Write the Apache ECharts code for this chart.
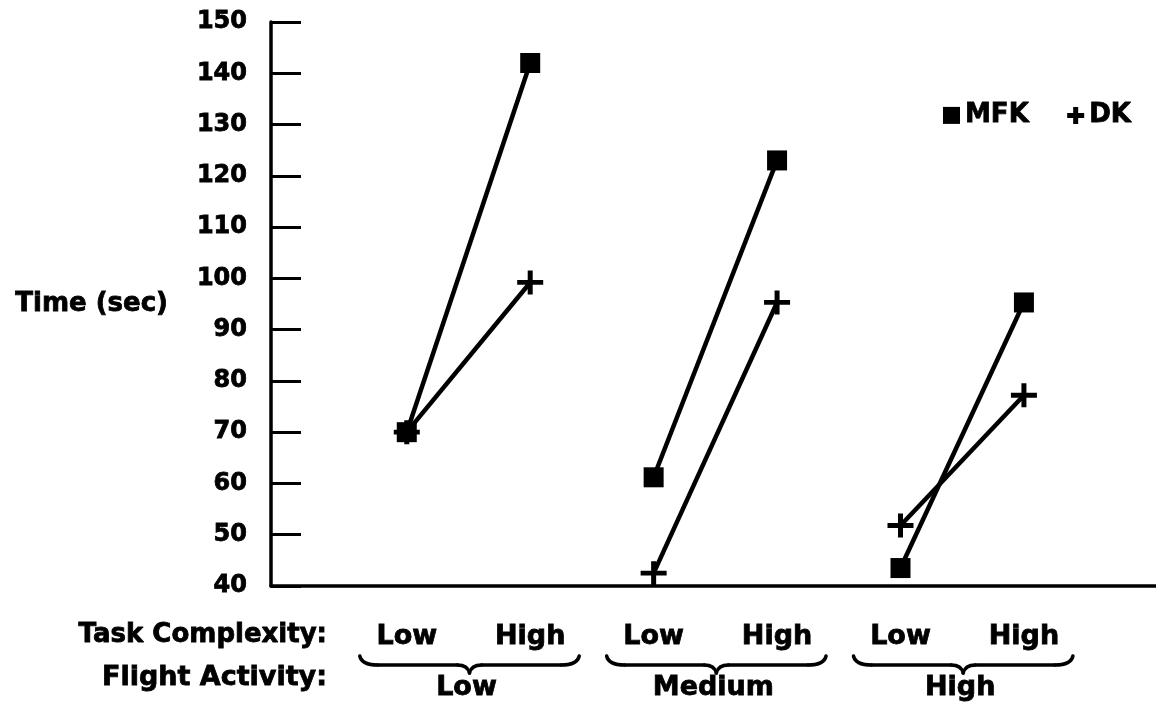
<!DOCTYPE html>
<html>
<head>
<meta charset="utf-8">
<script src="https://cdn.jsdelivr.net/npm/echarts@6/dist/echarts.min.js"></script>
<style>
html,body{margin:0;padding:0;background:#fff;}
#chart{width:1156px;height:704px;}
</style>
</head>
<body>
<div id="chart"></div>
<script>
// ---- data ----
var taskComplexity = ['Low', 'High', 'Low', 'High', 'Low', 'High'];
var flightActivity = ['Low', 'Medium', 'High'];
var mfkValues = [70, 142, 61.2, 123, 43.5, 95.3];
var dkValues = [70, 99.2, 42.5, 95.3, 51.8, 77.2];
var yTicks = [40, 50, 60, 70, 80, 90, 100, 110, 120, 130, 140, 150];

var FONT = 'DejaVu Sans';
var PLUS = 'path://M0,10H10.5V0H15.5V10H26V15H15.5V25H10.5V15H0Z';
var PLUS_LEGEND = 'path://M0,6H6V0H11V6H17V11H11V17H6V11H0Z';
var HEAVY = {textBorderColor: '#000', textBorderWidth: 0.8};

var chart = echarts.init(document.getElementById('chart'), null, {renderer: 'canvas'});

var series = [];
flightActivity.forEach(function (g, gi) {
  var a = gi * 2, b = gi * 2 + 1;
  series.push({
    name: 'MFK', type: 'line', symbol: 'rect', symbolSize: 20,
    lineStyle: {color: '#000', width: 4.5}, itemStyle: {color: '#000'},
    data: [[a, mfkValues[a]], [b, mfkValues[b]]], z: 3
  });
  series.push({
    name: 'DK', type: 'line', symbol: PLUS, symbolSize: [26, 24],
    lineStyle: {color: '#000', width: 4.5}, itemStyle: {color: '#000'},
    data: [[a, dkValues[a]], [b, dkValues[b]]], z: 3
  });
});

chart.setOption({
  animation: false,
  backgroundColor: '#fff',
  grid: {left: 271, right: 0, top: 22, bottom: 118, containLabel: false},
  legend: {
    left: 943, top: 102, padding: 0, itemWidth: 17, itemHeight: 17, itemGap: 38,
    textStyle: Object.assign({fontFamily: FONT, fontWeight: 'bold', fontSize: 26, color: '#000'}, HEAVY),
    data: [{name: 'MFK', icon: 'rect'}, {name: 'DK', icon: PLUS_LEGEND}],
    selectedMode: false
  },
  xAxis: {
    type: 'value', min: -1.1, max: 6.07,
    axisLine: {show: true, onZero: false, lineStyle: {color: '#000', width: 3.5}},
    axisTick: {show: false}, axisLabel: {show: false}, splitLine: {show: false}
  },
  yAxis: {
    type: 'value', min: yTicks[0], max: yTicks[yTicks.length - 1], interval: 10,
    name: 'Time (sec)', nameLocation: 'middle', nameRotate: 0, nameGap: 103,
    nameTextStyle: Object.assign({fontFamily: FONT, fontWeight: 'bold', fontSize: 26, color: '#000'}, HEAVY),
    axisLine: {show: true, onZero: false, lineStyle: {color: '#000', width: 3.5}},
    axisTick: {show: true, inside: true, length: 30, lineStyle: {color: '#000', width: 3}},
    axisLabel: Object.assign({fontFamily: FONT, fontWeight: 'bold', fontSize: 24, color: '#000', margin: 24}, HEAVY),
    splitLine: {show: false}
  },
  series: series
});

// ---- bottom labels & braces ----
var gfx = [];
function px(i) { return chart.convertToPixel({xAxisIndex: 0}, i); }
var textBase = {fontFamily: FONT, fontWeight: 'bold', fontSize: 26, fill: '#000', verticalAlign: 'middle', stroke: '#000', lineWidth: 0.8};
var lineStyle = {stroke: '#000', lineWidth: 3.5, fill: null, lineCap: 'round'};

gfx.push({type: 'text', x: 327, y: 635,
  style: Object.assign({}, textBase, {text: 'Task Complexity:', align: 'right'})});
gfx.push({type: 'text', x: 327, y: 678,
  style: Object.assign({}, textBase, {text: 'Flight Activity:', align: 'right', fontSize: 27})});

taskComplexity.forEach(function (t, i) {
  gfx.push({type: 'text', x: px(i), y: 637,
    style: Object.assign({}, textBase, {text: t, align: 'center', fontSize: 27})});
});

flightActivity.forEach(function (g, gi) {
  var x0 = px(gi * 2), x1 = px(gi * 2 + 1);
  var L = x0 - 47, R = x1 + 49, M = (L + R) / 2;
  var y0 = 656, ym = 665, y1 = 673;
  gfx.push({type: 'bezierCurve', shape: {x1: L, y1: y0, cpx1: L + 2, cpy1: ym, x2: L + 18, y2: ym}, style: lineStyle});
  gfx.push({type: 'line', shape: {x1: L + 18, y1: ym, x2: M - 12, y2: ym}, style: lineStyle});
  gfx.push({type: 'bezierCurve', shape: {x1: M - 12, y1: ym, cpx1: M - 2, cpy1: ym, x2: M, y2: y1}, style: lineStyle});
  gfx.push({type: 'bezierCurve', shape: {x1: M, y1: y1, cpx1: M + 2, cpy1: ym, x2: M + 12, y2: ym}, style: lineStyle});
  gfx.push({type: 'line', shape: {x1: M + 12, y1: ym, x2: R - 18, y2: ym}, style: lineStyle});
  gfx.push({type: 'bezierCurve', shape: {x1: R - 18, y1: ym, cpx1: R - 2, cpy1: ym, x2: R, y2: y0}, style: lineStyle});
  gfx.push({type: 'text', x: M - 3, y: 688,
    style: Object.assign({}, textBase, {text: g, align: 'center', fontSize: 27})});
});

chart.setOption({graphic: gfx});
</script>
</body>
</html>
